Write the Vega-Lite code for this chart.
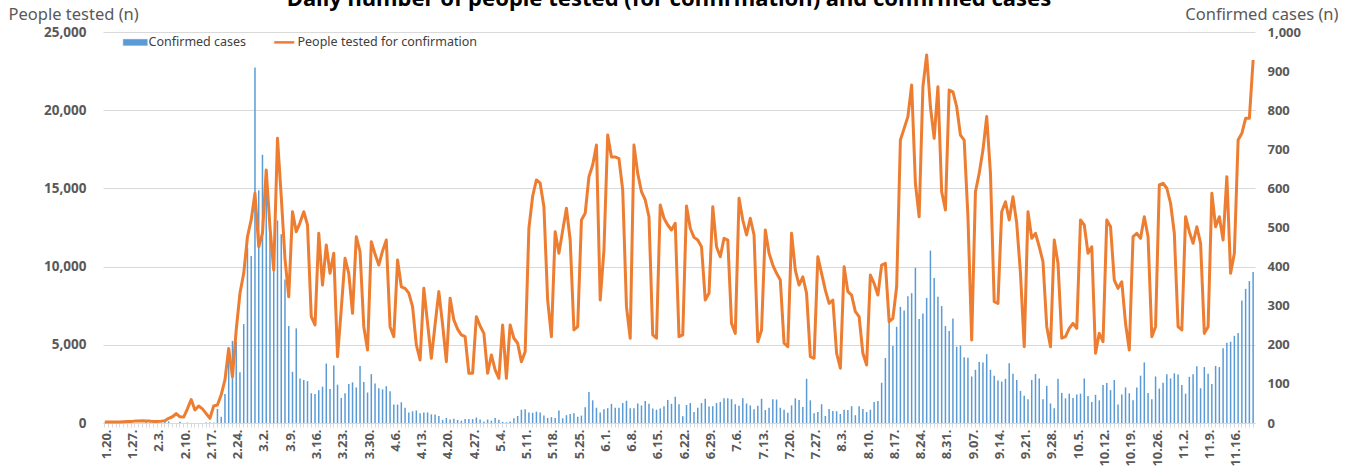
{
 "$schema": "https://vega.github.io/schema/vega-lite/v6.json",
 "width": 1152, "height": 391,
 "autosize": {"type": "none"},
 "padding": {"left": 103, "top": 32, "right": 99, "bottom": 44},
 "background": "white",
 "config": {"font": "Noto Sans", "view": {"stroke": null}},
 "title": {"text": "Daily number of people tested (for confirmation) and confirmed cases", "fontSize": 22, "fontWeight": "bold", "color": "#000000", "frame": "group", "anchor": "middle", "baseline": "alphabetic", "offset": -22, "dx": -10},
 "data": {"values": [
{"d":"1.20.","c":1,"t":60},{"d":"1.21.","c":0,"t":60},{"d":"1.22.","c":0,"t":60},{"d":"1.23.","c":0,"t":60},{"d":"1.24.","c":1,"t":70},{"d":"1.25.","c":0,"t":80},{"d":"1.26.","c":1,"t":90},{"d":"1.27.","c":1,"t":100},{"d":"1.28.","c":0,"t":120},{"d":"1.29.","c":0,"t":130},{"d":"1.30.","c":0,"t":150},{"d":"1.31.","c":7,"t":130},
{"d":"2.1.","c":1,"t":120},{"d":"2.2.","c":3,"t":100},{"d":"2.3.","c":0,"t":100},{"d":"2.4.","c":1,"t":120},{"d":"2.5.","c":3,"t":150},{"d":"2.6.","c":4,"t":300},{"d":"2.7.","c":0,"t":400},{"d":"2.8.","c":0,"t":600},{"d":"2.9.","c":3,"t":400},{"d":"2.10.","c":0,"t":380},{"d":"2.11.","c":1,"t":900},{"d":"2.12.","c":0,"t":1500},{"d":"2.13.","c":0,"t":830},{"d":"2.14.","c":0,"t":1090},{"d":"2.15.","c":0,"t":900},{"d":"2.16.","c":1,"t":600},{"d":"2.17.","c":1,"t":300},{"d":"2.18.","c":1,"t":1090},{"d":"2.19.","c":36,"t":1150},{"d":"2.20.","c":16,"t":1800},{"d":"2.21.","c":74,"t":2750},{"d":"2.22.","c":190,"t":4770},{"d":"2.23.","c":210,"t":2960},{"d":"2.24.","c":207,"t":5950},{"d":"2.25.","c":130,"t":8290},{"d":"2.26.","c":253,"t":9570},{"d":"2.27.","c":449,"t":11910},{"d":"2.28.","c":427,"t":13000},{"d":"2.29.","c":909,"t":14690},
{"d":"3.1.","c":595,"t":11270},{"d":"3.2.","c":686,"t":12130},{"d":"3.3.","c":600,"t":16180},{"d":"3.4.","c":516,"t":12500},{"d":"3.5.","c":438,"t":9780},{"d":"3.6.","c":518,"t":18200},{"d":"3.7.","c":483,"t":14470},{"d":"3.8.","c":367,"t":10500},{"d":"3.9.","c":248,"t":8070},{"d":"3.10.","c":131,"t":13510},{"d":"3.11.","c":242,"t":12230},{"d":"3.12.","c":114,"t":12800},{"d":"3.13.","c":110,"t":13510},{"d":"3.14.","c":107,"t":12660},{"d":"3.15.","c":76,"t":6800},{"d":"3.16.","c":74,"t":6270},{"d":"3.17.","c":84,"t":12130},{"d":"3.18.","c":93,"t":8820},{"d":"3.19.","c":152,"t":11380},{"d":"3.20.","c":87,"t":9570},{"d":"3.21.","c":147,"t":10850},{"d":"3.22.","c":98,"t":4240},{"d":"3.23.","c":64,"t":7300},{"d":"3.24.","c":76,"t":10530},{"d":"3.25.","c":100,"t":9570},{"d":"3.26.","c":104,"t":7010},{"d":"3.27.","c":91,"t":11910},{"d":"3.28.","c":146,"t":10950},{"d":"3.29.","c":105,"t":6160},{"d":"3.30.","c":78,"t":4670},{"d":"3.31.","c":125,"t":11590},
{"d":"4.1.","c":101,"t":10800},{"d":"4.2.","c":89,"t":10100},{"d":"4.3.","c":86,"t":11000},{"d":"4.4.","c":94,"t":11700},{"d":"4.5.","c":81,"t":6160},{"d":"4.6.","c":47,"t":5520},{"d":"4.7.","c":47,"t":10420},{"d":"4.8.","c":53,"t":8710},{"d":"4.9.","c":39,"t":8610},{"d":"4.10.","c":27,"t":8300},{"d":"4.11.","c":30,"t":7440},{"d":"4.12.","c":32,"t":5000},{"d":"4.13.","c":25,"t":4030},{"d":"4.14.","c":27,"t":8610},{"d":"4.15.","c":27,"t":6370},{"d":"4.16.","c":22,"t":4140},{"d":"4.17.","c":22,"t":6300},{"d":"4.18.","c":18,"t":8400},{"d":"4.19.","c":8,"t":6300},{"d":"4.20.","c":13,"t":3920},{"d":"4.21.","c":9,"t":7970},{"d":"4.22.","c":11,"t":6590},{"d":"4.23.","c":8,"t":6000},{"d":"4.24.","c":6,"t":5630},{"d":"4.25.","c":10,"t":5520},{"d":"4.26.","c":10,"t":3180},{"d":"4.27.","c":10,"t":3180},{"d":"4.28.","c":14,"t":6800},{"d":"4.29.","c":9,"t":6200},{"d":"4.30.","c":4,"t":5730},
{"d":"5.1.","c":9,"t":3180},{"d":"5.2.","c":6,"t":4350},{"d":"5.3.","c":13,"t":3390},{"d":"5.4.","c":8,"t":2860},{"d":"5.5.","c":3,"t":6270},{"d":"5.6.","c":2,"t":2860},{"d":"5.7.","c":4,"t":6270},{"d":"5.8.","c":12,"t":5420},{"d":"5.9.","c":18,"t":5100},{"d":"5.10.","c":34,"t":3920},{"d":"5.11.","c":35,"t":4560},{"d":"5.12.","c":27,"t":12450},{"d":"5.13.","c":26,"t":14500},{"d":"5.14.","c":29,"t":15540},{"d":"5.15.","c":27,"t":15330},{"d":"5.16.","c":19,"t":13830},{"d":"5.17.","c":13,"t":7860},{"d":"5.18.","c":15,"t":5520},{"d":"5.19.","c":13,"t":12230},{"d":"5.20.","c":32,"t":10850},{"d":"5.21.","c":12,"t":12300},{"d":"5.22.","c":20,"t":13730},{"d":"5.23.","c":23,"t":11700},{"d":"5.24.","c":25,"t":5950},{"d":"5.25.","c":16,"t":6160},{"d":"5.26.","c":19,"t":12980},{"d":"5.27.","c":40,"t":13410},{"d":"5.28.","c":79,"t":15750},{"d":"5.29.","c":58,"t":16500},{"d":"5.30.","c":39,"t":17770},{"d":"5.31.","c":27,"t":7860},
{"d":"6.1.","c":35,"t":11060},{"d":"6.2.","c":38,"t":18410},{"d":"6.3.","c":49,"t":17010},{"d":"6.4.","c":39,"t":17010},{"d":"6.5.","c":39,"t":16900},{"d":"6.6.","c":51,"t":14900},{"d":"6.7.","c":57,"t":7440},{"d":"6.8.","c":38,"t":5420},{"d":"6.9.","c":38,"t":17770},{"d":"6.10.","c":50,"t":15960},{"d":"6.11.","c":45,"t":14790},{"d":"6.12.","c":56,"t":14260},{"d":"6.13.","c":49,"t":13190},{"d":"6.14.","c":37,"t":5630},{"d":"6.15.","c":34,"t":5420},{"d":"6.16.","c":37,"t":13940},{"d":"6.17.","c":43,"t":13090},{"d":"6.18.","c":59,"t":12660},{"d":"6.19.","c":49,"t":12340},{"d":"6.20.","c":67,"t":12770},{"d":"6.21.","c":48,"t":5520},{"d":"6.22.","c":17,"t":5630},{"d":"6.23.","c":46,"t":13870},{"d":"6.24.","c":51,"t":12450},{"d":"6.25.","c":28,"t":11870},{"d":"6.26.","c":39,"t":11700},{"d":"6.27.","c":51,"t":11270},{"d":"6.28.","c":62,"t":7860},{"d":"6.29.","c":42,"t":8290},{"d":"6.30.","c":43,"t":13830},
{"d":"7.1.","c":51,"t":11270},{"d":"7.2.","c":54,"t":10630},{"d":"7.3.","c":63,"t":11810},{"d":"7.4.","c":63,"t":11700},{"d":"7.5.","c":61,"t":6370},{"d":"7.6.","c":48,"t":5730},{"d":"7.7.","c":44,"t":14370},{"d":"7.8.","c":63,"t":12980},{"d":"7.9.","c":50,"t":12020},{"d":"7.10.","c":45,"t":13090},{"d":"7.11.","c":35,"t":12020},{"d":"7.12.","c":44,"t":5200},{"d":"7.13.","c":62,"t":5950},{"d":"7.14.","c":33,"t":12340},{"d":"7.15.","c":39,"t":10850},{"d":"7.16.","c":61,"t":10100},{"d":"7.17.","c":60,"t":9570},{"d":"7.18.","c":39,"t":9140},{"d":"7.19.","c":34,"t":5100},{"d":"7.20.","c":26,"t":4880},{"d":"7.21.","c":45,"t":12130},{"d":"7.22.","c":63,"t":9780},{"d":"7.23.","c":59,"t":8820},{"d":"7.24.","c":41,"t":9350},{"d":"7.25.","c":113,"t":8290},{"d":"7.26.","c":58,"t":4240},{"d":"7.27.","c":25,"t":4140},{"d":"7.28.","c":28,"t":10630},{"d":"7.29.","c":48,"t":9570},{"d":"7.30.","c":18,"t":8500},{"d":"7.31.","c":36,"t":7650},
{"d":"8.1.","c":31,"t":7860},{"d":"8.2.","c":30,"t":4460},{"d":"8.3.","c":23,"t":3500},{"d":"8.4.","c":34,"t":9990},{"d":"8.5.","c":33,"t":8400},{"d":"8.6.","c":43,"t":8180},{"d":"8.7.","c":20,"t":7120},{"d":"8.8.","c":43,"t":6800},{"d":"8.9.","c":36,"t":4460},{"d":"8.10.","c":28,"t":3710},{"d":"8.11.","c":34,"t":9460},{"d":"8.12.","c":54,"t":8930},{"d":"8.13.","c":56,"t":8180},{"d":"8.14.","c":103,"t":10100},{"d":"8.15.","c":166,"t":10210},{"d":"8.16.","c":279,"t":6480},{"d":"8.17.","c":197,"t":6690},{"d":"8.18.","c":246,"t":8710},{"d":"8.19.","c":297,"t":18090},{"d":"8.20.","c":288,"t":18840},{"d":"8.21.","c":324,"t":19590},{"d":"8.22.","c":332,"t":21610},{"d":"8.23.","c":397,"t":15330},{"d":"8.24.","c":266,"t":13190},{"d":"8.25.","c":280,"t":21500},{"d":"8.26.","c":320,"t":23530},{"d":"8.27.","c":441,"t":20220},{"d":"8.28.","c":371,"t":18200},{"d":"8.29.","c":323,"t":21500},{"d":"8.30.","c":299,"t":14790},{"d":"8.31.","c":248,"t":13620},
{"d":"9.1.","c":235,"t":21290},{"d":"9.2.","c":267,"t":21180},{"d":"9.3.","c":195,"t":20220},{"d":"9.4.","c":198,"t":18410},{"d":"9.5.","c":168,"t":18090},{"d":"9.6.","c":167,"t":13190},{"d":"9.07.","c":119,"t":5310},{"d":"9.8.","c":136,"t":14790},{"d":"9.9.","c":156,"t":15960},{"d":"9.10.","c":155,"t":17450},{"d":"9.11.","c":176,"t":19590},{"d":"9.12.","c":136,"t":15960},{"d":"9.13.","c":121,"t":7760},{"d":"9.14.","c":109,"t":7650},{"d":"9.15.","c":106,"t":13510},{"d":"9.16.","c":113,"t":14150},{"d":"9.17.","c":153,"t":12980},{"d":"9.18.","c":126,"t":14470},{"d":"9.19.","c":110,"t":12770},{"d":"9.20.","c":82,"t":9570},{"d":"9.21.","c":70,"t":4880},{"d":"9.22.","c":61,"t":13510},{"d":"9.23.","c":110,"t":11810},{"d":"9.24.","c":125,"t":12130},{"d":"9.25.","c":114,"t":11270},{"d":"9.26.","c":61,"t":10310},{"d":"9.27.","c":95,"t":6160},{"d":"9.28.","c":50,"t":4880},{"d":"9.29.","c":38,"t":11700},{"d":"9.30.","c":113,"t":10210},
{"d":"10.1.","c":77,"t":5420},{"d":"10.2.","c":63,"t":5520},{"d":"10.3.","c":75,"t":6050},{"d":"10.4.","c":64,"t":6370},{"d":"10.5.","c":73,"t":6050},{"d":"10.6.","c":75,"t":12980},{"d":"10.7.","c":114,"t":12660},{"d":"10.8.","c":69,"t":10850},{"d":"10.9.","c":54,"t":11270},{"d":"10.10.","c":72,"t":4460},{"d":"10.11.","c":58,"t":5730},{"d":"10.12.","c":97,"t":5200},{"d":"10.13.","c":102,"t":12980},{"d":"10.14.","c":84,"t":12550},{"d":"10.15.","c":110,"t":9140},{"d":"10.16.","c":47,"t":8610},{"d":"10.17.","c":73,"t":9030},{"d":"10.18.","c":91,"t":6370},{"d":"10.19.","c":76,"t":4670},{"d":"10.20.","c":58,"t":11910},{"d":"10.21.","c":91,"t":12130},{"d":"10.22.","c":121,"t":11810},{"d":"10.23.","c":155,"t":13190},{"d":"10.24.","c":77,"t":11910},{"d":"10.25.","c":61,"t":5520},{"d":"10.26.","c":119,"t":6160},{"d":"10.27.","c":88,"t":15220},{"d":"10.28.","c":103,"t":15330},{"d":"10.29.","c":125,"t":15010},{"d":"10.30.","c":114,"t":14050},{"d":"10.31.","c":127,"t":12130},
{"d":"11.1.","c":124,"t":6160},{"d":"11.2.","c":97,"t":5950},{"d":"11.3.","c":75,"t":13190},{"d":"11.4.","c":118,"t":12230},{"d":"11.5.","c":125,"t":11490},{"d":"11.6.","c":145,"t":12550},{"d":"11.7.","c":89,"t":11490},{"d":"11.8.","c":143,"t":5730},{"d":"11.9.","c":126,"t":6160},{"d":"11.10.","c":100,"t":14690},{"d":"11.11.","c":146,"t":12550},{"d":"11.12.","c":143,"t":13190},{"d":"11.13.","c":191,"t":11700},{"d":"11.14.","c":205,"t":15750},{"d":"11.15.","c":208,"t":9570},{"d":"11.16.","c":223,"t":10850},{"d":"11.17.","c":230,"t":18090},{"d":"11.18.","c":313,"t":18520},{"d":"11.19.","c":343,"t":19480},{"d":"11.20.","c":363,"t":19480},{"d":"11.21.","c":386,"t":23210}
 ]},
 "encoding": {
  "x": {"field": "d", "type": "ordinal", "sort": null,
   "scale": {"paddingInner": 0, "paddingOuter": 0},
   "axis": {"title": null, "labelAngle": 270, "labelFontSize": 13, "labelColor": "#595959", "labelFontWeight": "bold", "labelPadding": 2, "labelOffset": 2, "tickColor": "#d9d9d9", "tickSize": 4, "domainColor": "#d9d9d9",
    "labelExpr": "indexof(['1.20.','1.27.','2.3.','2.10.','2.17.','2.24.','3.2.','3.9.','3.16.','3.23.','3.30.','4.6.','4.13.','4.20.','4.27.','5.4.','5.11.','5.18.','5.25.','6.1.','6.8.','6.15.','6.22.','6.29.','7.6.','7.13.','7.20.','7.27.','8.3.','8.10.','8.17.','8.24.','8.31.','9.07.','9.14.','9.21.','9.28.','10.5.','10.12.','10.19.','10.26.','11.2.','11.9.','11.16.'], datum.value) >= 0 ? datum.value : ''"}}
 },
 "layer": [
  {"mark": {"type": "bar", "width": {"band": 0.4}},
   "encoding": {
    "y": {"field": "c", "type": "quantitative", "scale": {"domain": [0, 1000], "nice": false},
     "axis": {"orient": "right", "values": [0,100,200,300,400,500,600,700,800,900,1000], "format": ",.0f", "grid": false, "domain": false, "ticks": false, "tickSize": 0, "labelPadding": 12, "labelFontSize": 13, "labelColor": "#595959", "labelFontWeight": "bold",
      "title": "Confirmed cases (n)", "titleAngle": 0, "titleAlign": "right", "titleBaseline": "middle", "titleX": 83, "titleY": -18, "titleFontSize": 16.5, "titleColor": "#595959", "titleFontWeight": "normal"}},
    "color": {"datum": "Confirmed cases", "type": "nominal",
     "scale": {"domain": ["Confirmed cases", "People tested for confirmation"], "range": ["#5B9BD5", "#ED7D31"]},
     "legend": {"orient": "none", "legendX": 26, "legendY": 4, "direction": "horizontal", "title": null, "labelFontSize": 12.5, "labelColor": "#404040", "labelLimit": 400, "symbolSize": 400, "columnPadding": 22, "labelOffset": 7,
      "encode": {"symbols": {"update": {
       "shape": {"signal": "datum.value === 'Confirmed cases' ? 'M-1.2,-0.3H1.2V0.3H-1.2Z' : 'stroke'"},
       "fill": {"signal": "datum.value === 'Confirmed cases' ? '#5B9BD5' : 'transparent'"},
       "stroke": {"signal": "datum.value === 'Confirmed cases' ? '#5B9BD5' : '#ED7D31'"},
       "strokeWidth": {"signal": "datum.value === 'Confirmed cases' ? 0.5 : 2.5"},
       "opacity": {"value": 1}, "fillOpacity": {"value": 1}}}}}}
   }},
  {"mark": {"type": "line", "strokeWidth": 3, "strokeJoin": "round"},
   "encoding": {
    "y": {"field": "t", "type": "quantitative", "scale": {"domain": [0, 25000], "nice": false},
     "axis": {"orient": "left", "values": [0,5000,10000,15000,20000,25000], "format": ",.0f", "grid": true, "gridColor": "#d9d9d9", "gridWidth": 1, "domain": false, "ticks": false, "tickSize": 0, "labelPadding": 17, "labelFontSize": 13.5, "labelColor": "#595959", "labelFontWeight": "bold",
      "title": "People tested (n)", "titleAngle": 0, "titleAlign": "left", "titleBaseline": "middle", "titleX": -95, "titleY": -18, "titleFontSize": 16.5, "titleColor": "#595959", "titleFontWeight": "normal"}},
    "color": {"datum": "People tested for confirmation", "type": "nominal"}
   }}
 ],
 "resolve": {"scale": {"y": "independent"}}
}
